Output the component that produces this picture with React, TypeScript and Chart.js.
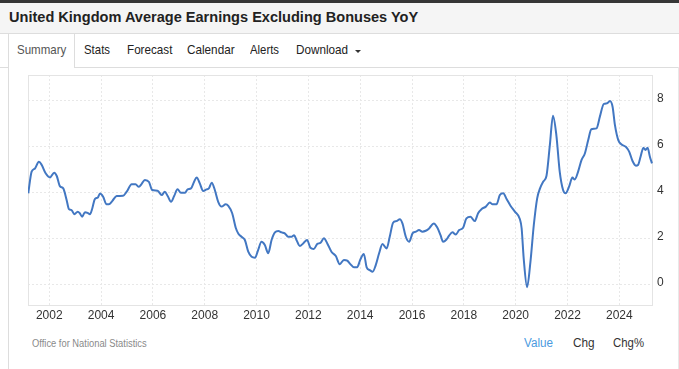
import React, { useEffect, useRef } from "react";
import { Chart, registerables } from "chart.js";

Chart.register(...registerables);

const TITLE = "United Kingdom Average Earnings Excluding Bonuses YoY";
const TABS = ["Summary", "Stats", "Forecast", "Calendar", "Alerts", "Download"];
const SOURCE = "Office for National Statistics";
const VIEW_OPTIONS = ["Value", "Chg", "Chg%"];

const YEAR_TICKS = [2002, 2004, 2006, 2008, 2010, 2012, 2014, 2016, 2018, 2020, 2022, 2024];
const VALUE_TICKS = [0, 2, 4, 6, 8];

// decimal year of each reading
const dates = [
  2001.19, 2001.32, 2001.45, 2001.6, 2001.71, 2001.86, 2002.03, 2002.19, 2002.29, 2002.41,
  2002.54, 2002.67, 2002.76, 2002.86, 2002.97, 2003.1, 2003.18, 2003.27, 2003.38, 2003.48,
  2003.57, 2003.66, 2003.76, 2003.87, 2003.96, 2004.08, 2004.21, 2004.3, 2004.43, 2004.6,
  2004.85, 2004.99, 2005.18, 2005.33, 2005.46, 2005.56, 2005.69, 2005.85, 2005.97, 2006.18,
  2006.34, 2006.46, 2006.57, 2006.7, 2006.82, 2006.95, 2007.08, 2007.24, 2007.34, 2007.47,
  2007.59, 2007.69, 2007.81, 2007.94, 2008.07, 2008.16, 2008.27, 2008.39, 2008.52, 2008.65,
  2008.81, 2008.91, 2009.06, 2009.2, 2009.3, 2009.42, 2009.55, 2009.68, 2009.81, 2009.94,
  2010.06, 2010.19, 2010.32, 2010.45, 2010.58, 2010.71, 2010.84, 2010.97, 2011.09, 2011.22,
  2011.35, 2011.45, 2011.54, 2011.67, 2011.8, 2011.95, 2012.08, 2012.21, 2012.34, 2012.47,
  2012.6, 2012.73, 2012.89, 2013.06, 2013.21, 2013.37, 2013.5, 2013.63, 2013.76, 2013.88,
  2014.01, 2014.14, 2014.25, 2014.37, 2014.48, 2014.6, 2014.73, 2014.86, 2015.02, 2015.14,
  2015.27, 2015.4, 2015.53, 2015.63, 2015.76, 2015.89, 2016.02, 2016.15, 2016.27, 2016.4,
  2016.53, 2016.66, 2016.84, 2016.97, 2017.1, 2017.2, 2017.33, 2017.43, 2017.56, 2017.69,
  2017.82, 2017.97, 2018.1, 2018.26, 2018.42, 2018.55, 2018.68, 2018.85, 2019.0, 2019.11,
  2019.26, 2019.39, 2019.52, 2019.65, 2019.8, 2019.97, 2020.16, 2020.23, 2020.31, 2020.44,
  2020.57, 2020.7, 2020.83, 2020.94, 2021.06, 2021.19, 2021.32, 2021.44, 2021.57, 2021.7,
  2021.83, 2021.93, 2022.06, 2022.19, 2022.28, 2022.41, 2022.54, 2022.67, 2022.8, 2022.92,
  2023.12, 2023.25, 2023.4, 2023.53, 2023.64, 2023.74, 2023.83, 2023.96, 2024.09, 2024.25,
  2024.38, 2024.51, 2024.64, 2024.72, 2024.82, 2024.93, 2025.01, 2025.09, 2025.18, 2025.26,
];

// YoY growth, percent
const values = [
  3.96, 4.9, 5.04, 5.33, 5.19, 4.83, 4.65, 4.85, 4.71, 4.27,
  4.17, 3.67, 3.27, 3.23, 3.05, 3.16, 3.09, 2.94, 3.14, 3.11,
  3.05, 3.3, 3.71, 3.77, 3.95, 3.81, 3.48, 3.48, 3.62, 3.84,
  3.85, 4.03, 4.35, 4.35, 4.24, 4.36, 4.54, 4.45, 4.1, 4.07,
  3.88, 4.03, 3.84, 3.59, 3.84, 4.13, 3.98, 3.98, 4.13, 4.17,
  4.46, 4.65, 4.39, 4.06, 4.13, 4.17, 4.42, 4.1, 3.59, 3.38,
  3.48, 3.41, 3.09, 2.45, 2.2, 2.07, 1.93, 1.42, 1.2, 1.16,
  1.49, 1.85, 1.71, 1.35, 1.93, 2.26, 2.32, 2.26, 2.22, 2.07,
  2.07, 2.14, 1.93, 1.67, 1.78, 1.93, 1.59, 1.54, 1.75, 1.81,
  2.0, 1.78, 1.42, 1.23, 0.88, 1.06, 1.03, 0.87, 0.74, 0.74,
  1.09, 1.32, 0.74, 0.62, 0.55, 0.84, 1.35, 1.75, 1.56, 2.07,
  2.68, 2.75, 2.83, 2.65, 2.07, 1.85, 2.22, 2.29, 2.36, 2.29,
  2.33, 2.43, 2.65, 2.48, 2.14, 1.85, 1.95, 2.12, 2.26, 2.17,
  2.36, 2.46, 2.87, 2.94, 2.75, 3.09, 3.27, 3.38, 3.56, 3.48,
  3.48, 3.88, 3.96, 3.71, 3.42, 3.16, 2.84, 2.44, 1.13, -0.12,
  0.98, 2.58, 3.74, 4.17, 4.46, 4.72, 6.06, 7.33, 6.49, 4.9,
  4.1, 3.96, 4.25, 4.64, 4.56, 4.9, 5.4, 5.69, 6.27, 6.74,
  6.78, 7.29, 7.84, 7.87, 7.97, 7.72, 6.93, 6.27, 6.08, 5.98,
  5.77, 5.36, 5.16, 5.19, 5.55, 5.94, 5.84, 5.94, 5.55, 5.26,
];

const FONT = '"Liberation Sans", Arial, Helvetica, sans-serif';

let measureCtx: CanvasRenderingContext2D | null = null;
function measure(text: string, font: string): number {
  if (!measureCtx) measureCtx = document.createElement("canvas").getContext("2d");
  measureCtx!.font = font;
  return measureCtx!.measureText(text).width;
}

function FitText(props: {
  text: string;
  left: number;
  cy: number;
  width: number;
  size: number;
  weight?: number;
  color: string;
}) {
  const { text, left, cy, width, size, weight = 400, color } = props;
  const font = `${weight} ${size}px ${FONT}`;
  const w = measure(text, font);
  const sx = w > 0 ? width / w : 1;
  const lh = Math.round(size * 1.4);
  return (
    <div
      style={{
        position: "absolute",
        left,
        top: cy - lh / 2,
        height: lh,
        lineHeight: `${lh}px`,
        font,
        color,
        whiteSpace: "nowrap",
        transform: `scaleX(${sx})`,
        transformOrigin: "0 0",
      }}
    >
      {text}
    </div>
  );
}

const boxPlugin = {
  id: "plotBox",
  beforeDatasetsDraw(chart: any) {
    const { ctx, chartArea } = chart;
    const l = Math.round(chartArea.left) + 0.5;
    const t = Math.round(chartArea.top) + 0.5;
    const r = Math.round(chartArea.right) - 0.5;
    const b = Math.round(chartArea.bottom) - 0.5;
    ctx.save();
    ctx.strokeStyle = "#e4e4e4";
    ctx.lineWidth = 1;
    ctx.setLineDash([]);
    ctx.strokeRect(l, t, r - l, b - t);
    ctx.restore();
  },
};

function LineChart() {
  const ref = useRef<HTMLCanvasElement | null>(null);
  useEffect(() => {
    if (!ref.current) return;
    const points = dates.map((d, i) => ({ x: d, y: values[i] }));
    const chart = new Chart(ref.current, {
      type: "line",
      data: {
        datasets: [
          {
            data: points,
            borderColor: "#4277c2",
            borderWidth: 2,
            pointRadius: 0,
            fill: false,
            cubicInterpolationMode: "monotone",
          },
        ],
      },
      options: {
        animation: false,
        responsive: false,
        devicePixelRatio: 1,
        layout: { padding: { left: 28, top: 5, right: 0, bottom: 0 } },
        plugins: { legend: { display: false }, tooltip: { enabled: false } },
        scales: {
          x: {
            type: "linear",
            min: 2001.18,
            max: 2025.3,
            afterBuildTicks: (scale: any) => {
              scale.ticks = YEAR_TICKS.map((v) => ({ value: v }));
            },
            afterFit: (scale: any) => {
              scale.height = 24;
              scale.paddingLeft = 0;
              scale.paddingRight = 0;
              scale.paddingTop = 0;
              scale.paddingBottom = 0;
            },
            grid: { color: "#e8e8e8", drawTicks: false },
            border: { display: false, dash: [2, 2] },
            ticks: {
              padding: 2,
              maxRotation: 0,
              autoSkip: false,
              color: "#333",
              font: { family: FONT, size: 12 },
              callback: (v: any) => String(v),
            },
          },
          y: {
            position: "right",
            min: -0.94,
            max: 9.1,
            afterBuildTicks: (scale: any) => {
              scale.ticks = VALUE_TICKS.map((v) => ({ value: v }));
            },
            afterFit: (scale: any) => {
              scale.width = 26;
              scale.paddingLeft = 0;
              scale.paddingRight = 0;
              scale.paddingTop = 0;
              scale.paddingBottom = 0;
            },
            grid: { color: "#e8e8e8", drawTicks: false },
            border: { display: false, dash: [2, 2] },
            ticks: {
              padding: 4,
              labelOffset: -2,
              color: "#333",
              font: { family: FONT, size: 12 },
              callback: (v: any) => String(v),
            },
          },
        },
      },
      plugins: [boxPlugin],
    } as any);
    return () => chart.destroy();
  }, []);
  return (
    <canvas
      ref={ref}
      width={679}
      height={260}
      style={{ position: "absolute", left: 0, top: 70, width: 679, height: 260 }}
    />
  );
}

const TAB_POS = [
  { left: 16.7, width: 49.3 },
  { left: 83.6, width: 26 },
  { left: 126.5, width: 45.4 },
  { left: 187.1, width: 47.6 },
  { left: 250.3, width: 29 },
  { left: 295.8, width: 52 },
];

const VIEW_POS = [
  { left: 524.3, width: 29, color: "#4a9ae0" },
  { left: 572.7, width: 21.6, color: "#333" },
  { left: 613.3, width: 31, color: "#333" },
];

export default function App() {
  const line = "#dddddd";
  return (
    <div
      style={{
        position: "absolute",
        left: 0,
        top: 0,
        width: 679,
        height: 369,
        background: "#fff",
        overflow: "hidden",
        fontFamily: FONT,
      }}
    >
      {/* top dark bar */}
      <div style={{ position: "absolute", left: 0, top: 0, width: 679, height: 3, background: "#363636" }} />
      {/* title band */}
      <div
        style={{
          position: "absolute",
          left: 0,
          top: 3,
          width: 679,
          height: 30,
          background: "#f5f5f5",
          borderBottom: `1px solid ${line}`,
        }}
      />
      <FitText text={TITLE} left={8.5} cy={19.8} width={410} size={14.8} weight={700} color="#222" />

      {/* tab row lines */}
      <div style={{ position: "absolute", left: 0, top: 67, width: 8, height: 1, background: line }} />
      <div style={{ position: "absolute", left: 74, top: 67, width: 605, height: 1, background: line }} />
      <div style={{ position: "absolute", left: 8, top: 33, width: 1, height: 336, background: line }} />
      <div style={{ position: "absolute", left: 74, top: 33, width: 1, height: 35, background: line }} />
      <div style={{ position: "absolute", left: 678, top: 67, width: 1, height: 302, background: "#e8e8e8" }} />

      {TABS.map((t, i) => (
        <FitText
          key={t}
          text={t}
          left={TAB_POS[i].left}
          cy={51.8}
          width={TAB_POS[i].width}
          size={13.5}
          color={i === 0 ? "#555" : "#222"}
        />
      ))}
      {/* dropdown caret */}
      <div
        style={{
          position: "absolute",
          left: 354.5,
          top: 50,
          width: 0,
          height: 0,
          borderLeft: "3px solid transparent",
          borderRight: "3px solid transparent",
          borderTop: "3px solid #333",
        }}
      />

      <LineChart />

      <FitText text={SOURCE} left={32.3} cy={344.8} width={114.7} size={10} color="#8a8a8a" />
      {VIEW_OPTIONS.map((t, i) => (
        <FitText
          key={t}
          text={t}
          left={VIEW_POS[i].left}
          cy={345}
          width={VIEW_POS[i].width}
          size={12.5}
          color={VIEW_POS[i].color}
        />
      ))}
    </div>
  );
}
